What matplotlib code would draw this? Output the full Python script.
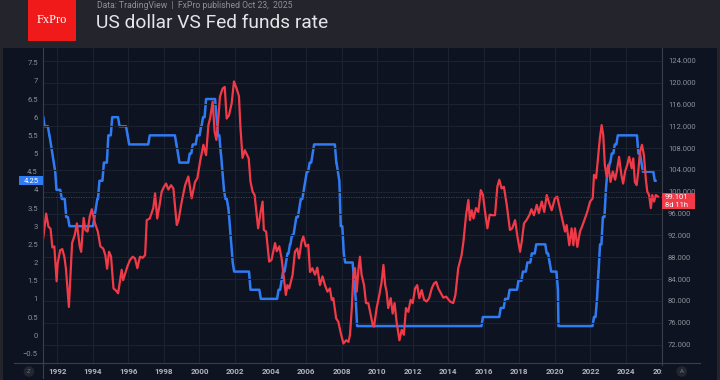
import matplotlib
matplotlib.use('Agg')
import matplotlib.pyplot as plt
from matplotlib.patches import Rectangle
from matplotlib.lines import Line2D
from matplotlib.transforms import Bbox, blended_transform_factory

W, H = 720, 380

# Fed funds target rate (upper bound): year the new level is reached, level
fed_years = [1991.21, 1991.28, 1991.55, 1991.64, 1991.72, 1991.80, 1991.88, 1991.95,
             1992.25, 1992.50, 1992.68, 1994.09, 1994.17, 1994.25, 1994.37, 1994.62,
             1994.87, 1995.09, 1995.50, 1995.95, 1996.04, 1997.20, 1998.70, 1998.79,
             1998.87, 1999.45, 1999.62, 1999.87, 2000.09, 2000.20, 2000.37, 2000.96,
             2001.04, 2001.20, 2001.29, 2001.37, 2001.46, 2001.62, 2001.71, 2001.79,
             2001.87, 2001.95, 2002.87, 2003.45, 2004.45, 2004.62, 2004.70, 2004.87,
             2004.95, 2005.09, 2005.20, 2005.37, 2005.45, 2005.62, 2005.70, 2005.87,
             2005.95, 2006.04, 2006.20, 2006.37, 2006.45, 2007.70, 2007.79, 2007.87,
             2007.95, 2008.12, 2008.20, 2008.70, 2008.79, 2008.87, 2015.95, 2016.95,
             2017.20, 2017.45, 2017.95, 2018.20, 2018.45, 2018.70, 2018.95, 2019.54,
             2019.70, 2019.79, 2020.17, 2020.20, 2022.20, 2022.37, 2022.45, 2022.54,
             2022.70, 2022.87, 2022.95, 2023.09, 2023.20, 2023.37, 2023.54, 2024.70,
             2024.87, 2024.95, 2025.62, 2025.66]
fed_rates = [6.0, 5.75, 5.5, 5.25, 5.0, 4.75, 4.5, 4.0,
             3.75, 3.25, 3.0, 3.25, 3.5, 3.75, 4.25, 4.75,
             5.5, 6.0, 5.75, 5.5, 5.25, 5.5, 5.25, 5.0,
             4.75, 5.0, 5.25, 5.5, 5.75, 6.0, 6.5, 6.0,
             5.5, 5.0, 4.5, 4.0, 3.75, 3.5, 3.0, 2.5,
             2.0, 1.75, 1.25, 1.0, 1.25, 1.5, 1.75, 2.0,
             2.25, 2.5, 2.75, 3.0, 3.25, 3.5, 3.75, 4.0,
             4.25, 4.5, 4.75, 5.0, 5.25, 4.75, 4.5, 4.25,
             3.0, 2.25, 2.0, 1.5, 1.0, 0.25, 0.5, 0.75,
             1.0, 1.25, 1.5, 1.75, 2.0, 2.25, 2.5, 2.25,
             2.0, 1.75, 1.25, 0.25, 0.5, 1.0, 1.75, 2.5,
             3.25, 4.0, 4.5, 4.75, 5.0, 5.25, 5.5, 5.0,
             4.75, 4.5, 4.25, 4.25]

# US dollar index
dxy_years = [1991.21, 1991.37, 1991.50, 1991.62, 1991.72, 1991.83, 1991.96, 1992.02,
             1992.16, 1992.28, 1992.40, 1992.48, 1992.65, 1992.83, 1992.98, 1993.10,
             1993.26, 1993.34, 1993.48, 1993.58, 1993.70, 1993.82, 1993.94, 1994.12,
             1994.28, 1994.42, 1994.58, 1994.70, 1994.80, 1994.91, 1995.02, 1995.16,
             1995.30, 1995.42, 1995.62, 1995.70, 1995.94, 1996.09, 1996.24, 1996.37,
             1996.50, 1996.65, 1996.80, 1996.94, 1997.03, 1997.20, 1997.40, 1997.50,
             1997.62, 1997.77, 1997.87, 1998.00, 1998.12, 1998.25, 1998.40, 1998.53,
             1998.72, 1998.82, 1999.00, 1999.19, 1999.37, 1999.56, 1999.75, 1999.88,
             2000.03, 2000.22, 2000.37, 2000.50, 2000.60, 2000.74, 2000.85, 2000.95,
             2001.06, 2001.15, 2001.30, 2001.42, 2001.53, 2001.66, 2001.81, 2001.94,
             2002.09, 2002.22, 2002.30, 2002.42, 2002.55, 2002.77, 2002.87, 2002.99,
             2003.10, 2003.30, 2003.44, 2003.55, 2003.62, 2003.75, 2003.92, 2004.05,
             2004.25, 2004.35, 2004.49, 2004.62, 2004.71, 2004.86, 2004.95, 2005.05,
             2005.15, 2005.24, 2005.37, 2005.50, 2005.60, 2005.74, 2005.84, 2005.98,
             2006.12, 2006.22, 2006.35, 2006.50, 2006.63, 2006.78, 2006.92, 2007.06,
             2007.20, 2007.34, 2007.44, 2007.53, 2007.69, 2007.81, 2007.95, 2008.10,
             2008.25, 2008.38, 2008.47, 2008.57, 2008.66, 2008.75, 2008.85, 2008.95,
             2009.03, 2009.12, 2009.26, 2009.37, 2009.50, 2009.60, 2009.75, 2009.82,
             2009.97, 2010.12, 2010.25, 2010.35, 2010.45, 2010.53, 2010.62, 2010.76,
             2010.87, 2010.98, 2011.09, 2011.25, 2011.38, 2011.50, 2011.62, 2011.75,
             2011.88, 2012.00, 2012.13, 2012.25, 2012.37, 2012.50, 2012.64, 2012.78,
             2012.92, 2013.07, 2013.20, 2013.32, 2013.44, 2013.57, 2013.72, 2013.88,
             2014.10, 2014.28, 2014.40, 2014.56, 2014.75, 2014.85, 2015.00, 2015.13,
             2015.22, 2015.32, 2015.42, 2015.56, 2015.69, 2015.83, 2015.95, 2016.07,
             2016.20, 2016.33, 2016.50, 2016.63, 2016.76, 2016.87, 2017.00, 2017.13,
             2017.29, 2017.47, 2017.60, 2017.76, 2017.89, 2018.04, 2018.13, 2018.26,
             2018.40, 2018.56, 2018.68, 2018.82, 2018.98, 2019.10, 2019.26, 2019.40,
             2019.54, 2019.68, 2019.82, 2020.00, 2020.13, 2020.29, 2020.43, 2020.57,
             2020.66, 2020.81, 2020.94, 2021.04, 2021.13, 2021.26, 2021.41, 2021.56,
             2021.69, 2021.82, 2021.98, 2022.13, 2022.20, 2022.32, 2022.44, 2022.53,
             2022.63, 2022.72, 2022.81, 2022.91, 2023.00, 2023.13, 2023.26, 2023.39,
             2023.48, 2023.61, 2023.74, 2023.84, 2023.95, 2024.07, 2024.18, 2024.32,
             2024.41, 2024.50, 2024.60, 2024.69, 2024.79, 2024.90, 2025.01, 2025.12,
             2025.20, 2025.30, 2025.40, 2025.48, 2025.58, 2025.68, 2025.80]
dxy_values = [91.6, 96.0, 93.6, 93.2, 89.8, 90.0, 83.6, 86.9,
              89.3, 89.5, 88.0, 86.0, 78.9, 90.6, 92.1, 94.2,
              90.0, 89.0, 95.2, 93.0, 92.7, 95.4, 96.8, 94.2,
              92.7, 90.0, 89.6, 88.4, 85.9, 89.0, 88.2, 82.3,
              81.9, 81.4, 85.7, 83.8, 86.3, 87.5, 88.1, 87.8,
              86.0, 88.1, 87.9, 88.4, 94.8, 95.1, 97.0, 99.7,
              95.1, 97.9, 100.0, 100.9, 101.5, 100.4, 101.2, 100.6,
              93.9, 94.8, 98.2, 101.2, 102.8, 98.8, 101.8, 102.5,
              105.5, 108.6, 106.7, 112.2, 113.5, 116.5, 111.0, 109.5,
              113.4, 117.4, 118.9, 119.2, 113.4, 114.0, 116.2, 120.2,
              118.9, 117.5, 112.0, 106.2, 107.6, 106.1, 101.8, 100.0,
              99.4, 93.3, 96.3, 98.2, 93.0, 92.7, 87.2, 87.5,
              90.6, 89.1, 90.0, 87.8, 85.3, 81.1, 82.9, 82.3,
              83.6, 84.8, 89.0, 89.6, 87.8, 90.8, 91.8, 90.0,
              90.3, 85.3, 86.0, 84.8, 86.1, 82.9, 84.5, 82.9,
              81.7, 82.3, 80.2, 80.5, 76.8, 76.2, 74.1, 72.2,
              72.8, 72.5, 73.8, 78.7, 84.8, 86.0, 81.7, 86.0,
              88.1, 84.8, 82.9, 79.6, 79.6, 78.0, 75.6, 75.3,
              78.7, 81.1, 83.5, 86.6, 82.9, 81.7, 78.7, 80.5,
              77.7, 79.6, 76.2, 72.8, 74.7, 73.8, 78.7, 78.0,
              80.2, 79.6, 82.3, 82.9, 80.5, 82.0, 80.2, 79.9,
              80.5, 82.3, 83.2, 83.5, 82.3, 81.5, 80.6, 80.8,
              79.9, 79.6, 81.1, 86.0, 88.4, 90.8, 95.7, 98.5,
              94.8, 96.6, 95.1, 97.0, 96.3, 100.3, 99.4, 96.3,
              93.3, 95.8, 95.7, 95.7, 100.9, 102.2, 100.6, 100.9,
              97.6, 93.0, 93.3, 94.8, 91.8, 89.0, 90.8, 94.2,
              94.8, 95.7, 96.8, 95.7, 97.6, 96.1, 98.2, 96.3,
              99.4, 97.9, 96.6, 98.8, 99.1, 96.8, 94.8, 92.7,
              93.9, 90.2, 93.3, 90.2, 93.3, 89.9, 92.7, 93.9,
              95.1, 96.3, 98.2, 98.8, 103.1, 102.5, 106.7, 109.8,
              112.2, 110.4, 104.9, 102.8, 104.9, 101.8, 103.7, 102.2,
              103.7, 106.4, 103.1, 101.5, 103.7, 104.9, 106.4, 104.3,
              106.1, 101.8, 101.2, 103.7, 107.3, 108.6, 106.7, 102.2,
              100.0, 99.4, 97.0, 99.4, 98.2, 99.4, 99.1]

fed_last = 4.25
dxy_last = 99.101
dxy_timer = "8d 11h"

left_ticks = [-0.5, 0, 0.5, 1, 1.5, 2, 2.5, 3, 3.5, 4, 4.5, 5, 5.5, 6, 6.5, 7, 7.5]
left_labels = ["\u22120.5", "0", "0.5", "1", "1.5", "2", "2.5", "3", "3.5", "4",
               "4.5", "5", "5.5", "6", "6.5", "7", "7.5"]
right_ticks = [72, 76, 80, 84, 88, 92, 96, 100, 104, 108, 112, 116, 120, 124]
year_ticks = list(range(1992, 2025, 2))

BG = '#24252c'
PANEL = '#0d1320'
GRID = '#1b2230'
AXLINE = '#3a3f4a'
TICKC = '#8b909a'
BLUE = '#2f7bf4'
RED = '#f03a48'
FONT = 'Roboto'


def fx(px):
    return px / W


def fy(px):
    return 1 - px / H


# monthly samples: each level holds until one month before the next change
fed_x, fed_y = [], []
for i, (t, r) in enumerate(zip(fed_years, fed_rates)):
    fed_x.append(t)
    fed_y.append(r)
    if i + 1 < len(fed_years):
        end = fed_years[i + 1] - 1 / 12
        if end > t:
            fed_x.append(end)
            fed_y.append(r)

fig = plt.figure(figsize=(W / 100, H / 100), dpi=100, facecolor=BG)

# dark chart panel
fig.add_artist(Rectangle((fx(3), 0), fx(714), fy(48.3), transform=fig.transFigure,
                         facecolor=PANEL, edgecolor='none', zorder=0))

left, right, top, bottom = 43.3, 661.7, 48.3, 363.3
ax = fig.add_axes([fx(left), fy(bottom), fx(right - left), fy(top) - fy(bottom)])
ax.set_facecolor('none')
ax2 = ax.twinx()

ax.plot(fed_x, fed_y, color=BLUE, lw=1.8, solid_joinstyle='round')
ax2.plot(dxy_years, dxy_values, color=RED, lw=1.6, solid_joinstyle='round')
ax2.axhline(dxy_last, color='#8c2a35', lw=0.6, ls=(0, (1.5, 1.5)))

ax.set_xlim(1991.21, 2026.01)
ax.set_ylim(-0.774, 7.896)
ax2.set_ylim(68.58, 126.27)

ax.set_xticks(year_ticks)
ax.set_xticklabels([str(y) for y in year_ticks], fontsize=5.8, color='#b0b4bd',
                   fontweight='bold', family=FONT)
ax.set_yticks(left_ticks)
ax.set_yticklabels(left_labels, fontsize=5.5, color=TICKC, family=FONT)
ax2.set_yticks(right_ticks)
ax2.set_yticklabels([f"{v:.3f}" for v in right_ticks], fontsize=5.5, color=TICKC, family=FONT)

ax.tick_params(axis='x', length=0, pad=3.3)
ax.tick_params(axis='y', length=0, pad=4)
ax2.tick_params(axis='y', length=0, pad=4.5)
ax.grid(axis='x', color=GRID, lw=0.8)
ax.grid(axis='y', visible=False)
ax2.grid(axis='y', color=GRID, lw=0.8)
ax2.set_axisbelow(True)
for a in (ax, ax2):
    for s in a.spines.values():
        s.set_visible(False)

# clipped last year label at the right edge
xt = blended_transform_factory(ax.transData, fig.transFigure)
t = fig.text(2026, fy(371.5), "2026", transform=xt, fontsize=5.8, color='#b0b4bd',
             fontweight='bold', family=FONT, ha='center', va='center')
t.set_clip_box(Bbox([[0, 0], [right, H]]))
t.set_clip_on(True)

# frame lines of the chart
fig.add_artist(Line2D([fx(left), fx(left)], [fy(top), fy(378)], color=AXLINE, lw=0.8))
fig.add_artist(Line2D([fx(right), fx(right)], [fy(top), fy(365)], color=AXLINE, lw=0.8))
fig.add_artist(Line2D([fx(14), fx(700)], [fy(bottom), fy(bottom)], color=AXLINE, lw=0.8))

# last value labels
left_px = (7.896 + 0.774) / (bottom - top)
bl = blended_transform_factory(fig.transFigure, ax.transData)
fig.add_artist(Rectangle((fx(19), fed_last - 4.5 * left_px), fx(24), 9 * left_px,
                         transform=bl, facecolor=BLUE, edgecolor='none', zorder=5))
fig.text(fx(31), fed_last, f"{fed_last:.2f}", transform=bl, fontsize=5.5, color='white',
         family=FONT, ha='center', va='center', zorder=6)

right_px = (126.27 - 68.58) / (bottom - top)
br = blended_transform_factory(fig.transFigure, ax2.transData)
fig.add_artist(Rectangle((fx(662), dxy_last - 12.7 * right_px), fx(33), 16 * right_px,
                         transform=br, facecolor=RED, edgecolor='none', zorder=5))
fig.text(fx(665), dxy_last, f"{dxy_last:.3f}", transform=br, fontsize=5.5, color='white',
         family=FONT, ha='left', va='center', zorder=6)
fig.text(fx(665), dxy_last - 8 * right_px, dxy_timer, transform=br, fontsize=5.5,
         color='white', family=FONT, ha='left', va='center', zorder=6)

# small round buttons
fig.text(fx(29), fy(371.5), "Z", fontsize=4.5, color='#6c707b', family=FONT,
         ha='center', va='center',
         bbox=dict(boxstyle='circle,pad=0.45', facecolor='#222631', edgecolor='none'))
fig.text(fx(681.7), fy(371.5), "A", fontsize=4.5, color='#6c707b', family=FONT,
         ha='center', va='center',
         bbox=dict(boxstyle='circle,pad=0.45', facecolor='#222631', edgecolor='none'))

# header
fig.add_artist(Rectangle((fx(28), fy(40.7)), fx(48), 40.7 / H, transform=fig.transFigure,
                         facecolor='#f01a1a', edgecolor='none'))
fig.text(fx(52), fy(20), "FxPro", fontsize=9, color='white', family='Liberation Serif',
         ha='center', va='center')
fig.text(fx(96.7), fy(8.5), "Data: TradingView  |  FxPro published Oct 23,  2025",
         fontsize=6.2, color='#8e9099', family=FONT, ha='left', va='baseline')
fig.text(fx(96), fy(28.3), "US dollar VS Fed funds rate", fontsize=13.8, color='#e4e5e8',
         family=FONT, ha='left', va='baseline')

fig.savefig('out.png', dpi=100, facecolor=BG)
